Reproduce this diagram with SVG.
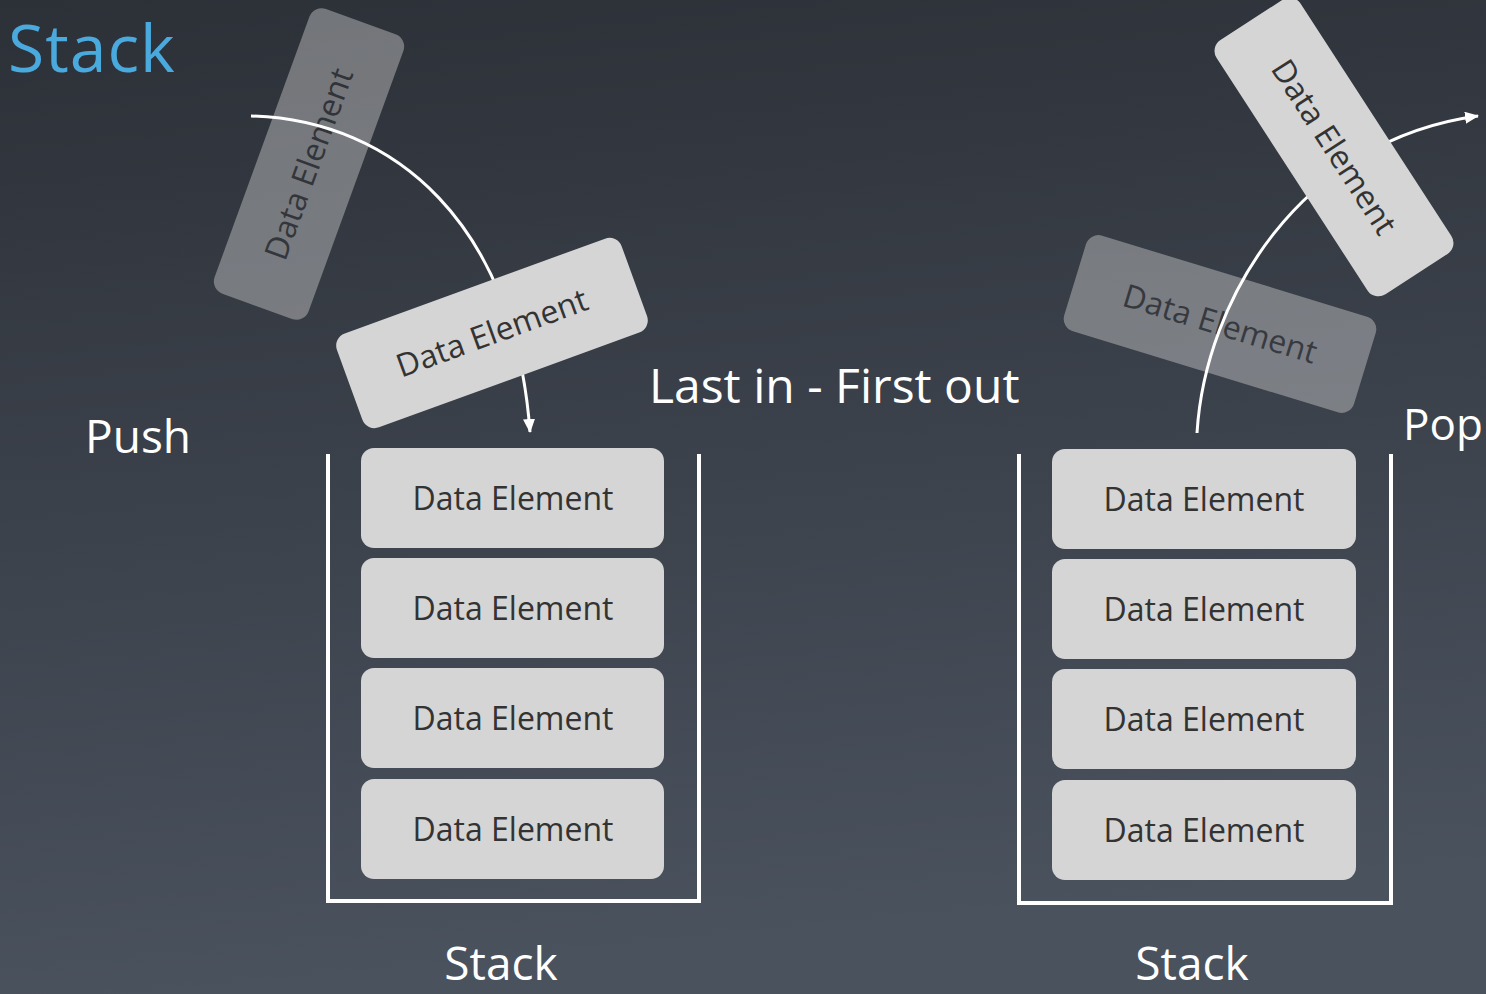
<svg xmlns="http://www.w3.org/2000/svg" width="1486" height="994" viewBox="0 0 1486 994">
<defs>
<linearGradient id="bg" x1="0" y1="0" x2="0.15" y2="1">
<stop offset="0" stop-color="#2c3037"/>
<stop offset="1" stop-color="#4a525e"/>
</linearGradient>
<marker id="ah" viewBox="0 0 14 12" refX="13" refY="6" markerWidth="14" markerHeight="12" markerUnits="userSpaceOnUse" orient="auto">
<path d="M0,0 L14,6 L0,12 Z" fill="#ffffff"/>
</marker>
<rect id="box" x="-151.5" y="-50" width="303" height="100" rx="13" ry="13"/>
</defs>
<style>
.box{fill:#d5d5d5;}
.lbl{font-family:"Open Sans","Noto Sans",sans-serif;font-size:32px;fill:#333333;text-anchor:middle;}
.title{font-family:"Open Sans","Noto Sans",sans-serif;fill:#ffffff;}
.wall{fill:none;stroke:#ffffff;stroke-width:4;}
.conn{fill:none;stroke:#ffffff;stroke-width:3;}
.faded{opacity:0.42;}
</style>
<rect x="0" y="0" width="1486" height="994" fill="url(#bg)"/>
<text x="8" y="72" font-family="Open Sans, Noto Sans, sans-serif" font-size="66" letter-spacing="1" fill="#4aa9dd">Stack</text>
<text class="title" x="85" y="453" font-size="46">Push</text>
<text class="title" x="649" y="403" font-size="48">Last in - First out</text>
<text class="title" x="1403" y="440" font-size="44">Pop</text>
<text class="title" x="501" y="980" font-size="46" text-anchor="middle">Stack</text>
<text class="title" x="1192" y="980" font-size="46" text-anchor="middle">Stack</text>

<g id="left-stack">
<path class="wall" d="M328,454 L328,901 L699,901 L699,454"/>
</g>
<g id="right-stack">
<path class="wall" d="M1019,454 L1019,903 L1391,903 L1391,454"/>
</g>

<g id="L1"><rect class="box" x="361" y="448" width="303" height="100" rx="13"/><text class="lbl" x="513" y="510">Data Element</text></g>
<g id="L2"><rect class="box" x="361" y="558" width="303" height="100" rx="13"/><text class="lbl" x="513" y="620">Data Element</text></g>
<g id="L3"><rect class="box" x="361" y="668" width="303" height="100" rx="13"/><text class="lbl" x="513" y="730">Data Element</text></g>
<g id="L4"><rect class="box" x="361" y="779" width="303" height="100" rx="13"/><text class="lbl" x="513" y="841">Data Element</text></g>

<g id="R1"><rect class="box" x="1052" y="449" width="304" height="100" rx="13"/><text class="lbl" x="1204" y="511">Data Element</text></g>
<g id="R2"><rect class="box" x="1052" y="559" width="304" height="100" rx="13"/><text class="lbl" x="1204" y="621">Data Element</text></g>
<g id="R3"><rect class="box" x="1052" y="669" width="304" height="100" rx="13"/><text class="lbl" x="1204" y="731">Data Element</text></g>
<g id="R4"><rect class="box" x="1052" y="780" width="304" height="100" rx="13"/><text class="lbl" x="1204" y="842">Data Element</text></g>

<g id="push-ghost" class="faded" transform="translate(309,164) rotate(-70)"><use href="#box" class="box"/><text class="lbl" x="0" y="11">Data Element</text></g>
<g id="pop-ghost" class="faded" transform="translate(1220,324) rotate(17)"><use href="#box" class="box"/><text class="lbl" x="0" y="11">Data Element</text></g>

<g id="connectors">
<path id="push-arrow" class="conn" d="M251,116 C395,120 515,225 530,432" marker-end="url(#ah)"/>
<path id="pop-arrow" class="conn" d="M1197,433 C1205,300 1300,140 1478,116" marker-end="url(#ah)"/>
</g>

<g id="push-item" transform="translate(492,333) rotate(-20)"><use href="#box" class="box"/><text class="lbl" x="0" y="11">Data Element</text></g>
<g id="pop-item" transform="translate(1334,147) rotate(57)"><use href="#box" class="box"/><text class="lbl" x="0" y="11">Data Element</text></g>
</svg>
